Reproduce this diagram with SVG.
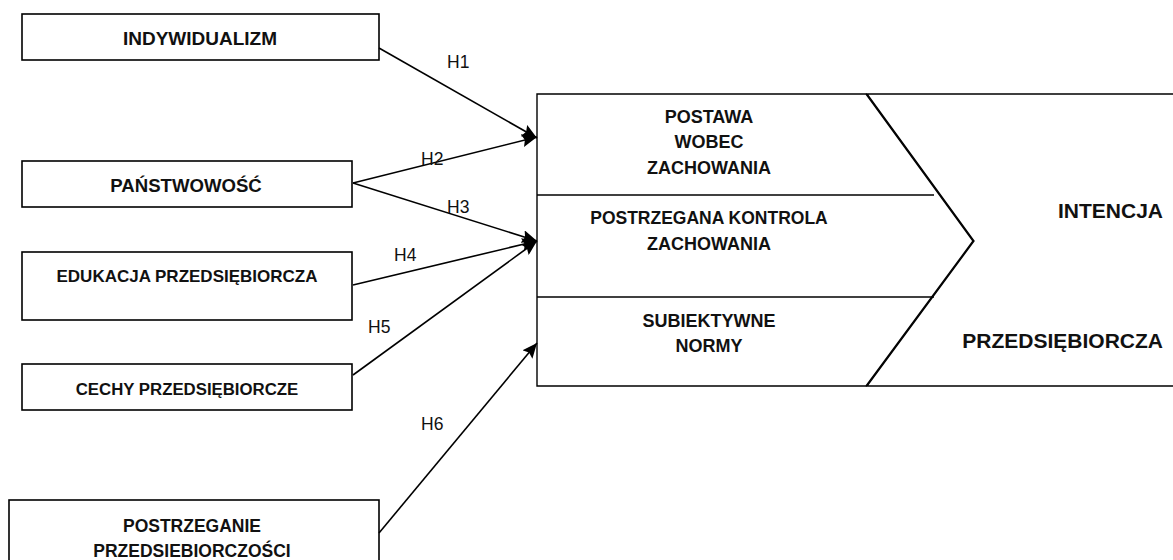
<svg xmlns="http://www.w3.org/2000/svg" width="1173" height="560" viewBox="0 0 1173 560">
  <style>
    .box { fill: #fff; stroke: #000; stroke-width: 1.6; }
    .shape { fill: #fff; stroke: #000; stroke-width: 1.4; stroke-linejoin: miter; }
    .div { stroke: #000; stroke-width: 1.6; fill: none; }
    .lbl { font-family: "Liberation Sans", Arial, sans-serif; font-weight: bold; font-size: 17.5px; fill: #111; text-anchor: middle; }
    .big { font-family: "Liberation Sans", Arial, sans-serif; font-weight: bold; font-size: 21px; fill: #111; text-anchor: end; }
    .h { font-family: "Liberation Sans", Arial, sans-serif; font-size: 17.5px; fill: #111; }
    .edge { stroke: #000; stroke-width: 1.6; fill: none; marker-end: url(#arrow); }
  </style>
  <defs>
    <marker id="arrow" viewBox="0 0 15 13" refX="15" refY="6.5" markerWidth="15" markerHeight="13" markerUnits="userSpaceOnUse" orient="auto">
      <path d="M0,0 L15,6.5 L0,13 L2.5,6.5 Z" fill="#000"/>
    </marker>
  </defs>

  <rect width="1173" height="560" fill="#fff"/>

  <!-- input factors -->
  <g id="indywidualizm">
    <rect class="box" x="22" y="14" width="357" height="46"/>
    <text class="lbl" x="200" y="45" style="font-size:19px">INDYWIDUALIZM</text>
  </g>
  <g id="panstwowosc">
    <rect class="box" x="22" y="161" width="330" height="46"/>
    <text class="lbl" x="186" y="192" style="font-size:18.6px">PAŃSTWOWOŚĆ</text>
  </g>
  <g id="edukacja">
    <rect class="box" x="22" y="252" width="330" height="68"/>
    <text class="lbl" x="187" y="282" style="font-size:17px">EDUKACJA PRZEDSIĘBIORCZA</text>
  </g>
  <g id="cechy">
    <rect class="box" x="22" y="364" width="330" height="46"/>
    <text class="lbl" x="187" y="395" style="font-size:16.8px">CECHY PRZEDSIĘBIORCZE</text>
  </g>
  <g id="postrzeganie">
    <rect class="box" x="9" y="500" width="370" height="80"/>
    <text class="lbl" x="192" y="532">POSTRZEGANIE</text>
    <text class="lbl" x="192" y="557">PRZEDSIEBIORCZOŚCI</text>
  </g>

  <!-- theory of planned behaviour block -->
  <g id="intencja">
    <path class="shape" d="M867,94 L1180,94 L1180,386 L867,386 L974,241 Z"/>
    <text class="big" x="1163" y="218">INTENCJA</text>
    <text class="big" x="1163" y="348">PRZEDSIĘBIORCZA</text>
  </g>
  <g id="tpb">
    <path class="shape" d="M537,94 L866,94 L973,241 L866,386 L537,386 Z"/>
    <line class="div" x1="537" y1="195" x2="934" y2="195"/>
    <line class="div" x1="537" y1="297" x2="934" y2="297"/>
    <g id="postawa">
      <text class="lbl" x="709" y="123" style="font-size:18px">POSTAWA</text>
      <text class="lbl" x="709" y="148" style="font-size:18px">WOBEC</text>
      <text class="lbl" x="709" y="174" style="font-size:18px">ZACHOWANIA</text>
    </g>
    <g id="kontrola">
      <text class="lbl" x="709" y="224">POSTRZEGANA KONTROLA</text>
      <text class="lbl" x="709" y="250" style="font-size:18px">ZACHOWANIA</text>
    </g>
    <g id="normy">
      <text class="lbl" x="709" y="327" style="font-size:18px">SUBIEKTYWNE</text>
      <text class="lbl" x="709" y="352" style="font-size:18px">NORMY</text>
    </g>
  </g>

  <!-- hypotheses -->
  <g id="connectors">
    <line class="edge" x1="379" y1="48" x2="537" y2="138"/>
    <line class="edge" x1="353" y1="183" x2="537" y2="137"/>
    <line class="edge" x1="353" y1="183" x2="537" y2="241"/>
    <line class="edge" x1="353" y1="285" x2="537" y2="241"/>
    <line class="edge" x1="353" y1="375" x2="537" y2="241"/>
    <line class="edge" x1="379" y1="533" x2="537" y2="343"/>
    <text class="h" x="447" y="68">H1</text>
    <text class="h" x="421" y="165">H2</text>
    <text class="h" x="447" y="213">H3</text>
    <text class="h" x="394" y="261">H4</text>
    <text class="h" x="368" y="333">H5</text>
    <text class="h" x="421" y="430">H6</text>
  </g>
</svg>
